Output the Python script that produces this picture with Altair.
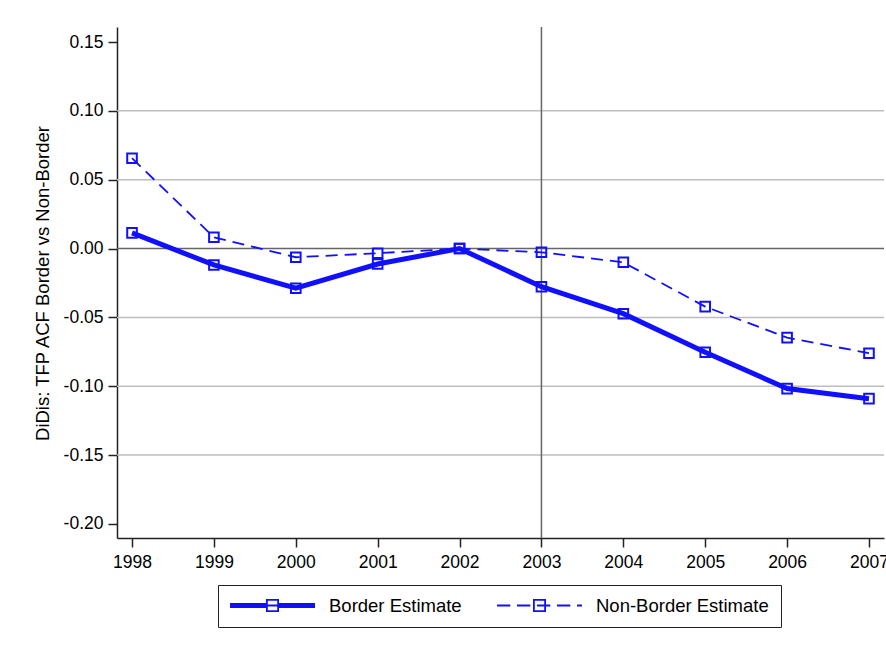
import altair as alt
import pandas as pd

# Difference-in-discontinuities estimates of TFP (ACF), by year
years = [1998, 1999, 2000, 2001, 2002, 2003, 2004, 2005, 2006, 2007]
border = [0.0114, -0.0119, -0.0288, -0.0112, 0.0000, -0.0277, -0.0473, -0.0753, -0.1017, -0.1090]
non_border = [0.0656, 0.0082, -0.0063, -0.0034, 0.0000, -0.0027, -0.0100, -0.0422, -0.0647, -0.0760]
series_names = ["Border Estimate", "Non-Border Estimate"]

y_ticks = [0.15, 0.10, 0.05, 0.00, -0.05, -0.10, -0.15, -0.20]
grid_levels = [0.10, 0.05, -0.05, -0.10, -0.15]
zero_level = [0.0]
event_year = [2003]

BLUE = "#1010ff"
FONT = "Liberation Sans"

border_df = pd.DataFrame({"year": years, "value": border, "series": series_names[0]})
non_border_df = pd.DataFrame({"year": years, "value": non_border, "series": series_names[1]})
df = pd.concat([border_df, non_border_df], ignore_index=True)

x_scale = alt.Scale(domain=[1997.8166, 2007.1834], nice=False, zero=False)
y_scale = alt.Scale(domain=[-0.2102, 0.1609], nice=False, zero=False)

x_axis = alt.Axis(
    values=years, format="d", title=None, grid=False,
    labelFont=FONT, labelFontSize=17.5, labelColor="black", labelPadding=6,
    labelFlush=False, tickSize=9, tickColor="#222222", tickWidth=1.5,
    domainColor="#222222", domainWidth=1.5,
)
y_axis = alt.Axis(
    values=y_ticks, grid=False,
    # plain hyphen-minus for negative tick labels
    labelExpr="replace(format(datum.value, '.2f'), '\u2212', '-')",
    title="DiDis: TFP ACF Border vs Non-Border",
    titleFont=FONT, titleFontSize=18.5, titleFontWeight="normal", titleColor="black",
    titleX=-75, titleY=256, titleAngle=270, titleAlign="center", titleBaseline="middle",
    labelFont=FONT, labelFontSize=17.5, labelColor="black", labelPadding=5,
    tickSize=9, tickColor="#222222", tickWidth=1.5,
    domainColor="#222222", domainWidth=1.5,
)

# background grid and reference lines
grid = (
    alt.Chart(pd.DataFrame({"g": grid_levels}))
    .mark_rule(color="#bdbdbd", strokeWidth=1.5)
    .encode(y=alt.Y("g:Q", scale=y_scale, axis=y_axis))
)
zero = (
    alt.Chart(pd.DataFrame({"z": zero_level}))
    .mark_rule(color="#666666", strokeWidth=1.5)
    .encode(y=alt.Y("z:Q", scale=y_scale))
)
vline = (
    alt.Chart(pd.DataFrame({"e": event_year}))
    .mark_rule(color="#666666", strokeWidth=1.5)
    .encode(x=alt.X("e:Q", scale=x_scale, axis=x_axis))
)

border_line = (
    alt.Chart(border_df)
    .mark_line(color=BLUE, strokeWidth=5)
    .encode(x=alt.X("year:Q", scale=x_scale), y=alt.Y("value:Q", scale=y_scale))
)
non_border_line = (
    alt.Chart(non_border_df)
    .mark_line(color=BLUE, strokeWidth=1.8, strokeDash=[12, 7])
    .encode(x=alt.X("year:Q", scale=x_scale), y=alt.Y("value:Q", scale=y_scale))
)

points = (
    alt.Chart(df)
    .mark_point(shape="square", filled=False, color=BLUE, size=92, strokeWidth=2, opacity=1)
    .encode(
        x=alt.X("year:Q", scale=x_scale),
        y=alt.Y("value:Q", scale=y_scale),
        detail="series:N",
    )
)

# legend glyphs: line (solid or dashed) with a hollow square, as SVG paths in
# symbol units (sqrt(size)/2 pixels per unit)
SYM = 85.0
U = SYM / 2


def rect(x0, x1, y0, y1):
    return f"M{x0/U:.4f},{y0/U:.4f}H{x1/U:.4f}V{y1/U:.4f}H{x0/U:.4f}Z"


def rect_rev(x0, x1, y0, y1):
    return f"M{x0/U:.4f},{y0/U:.4f}V{y1/U:.4f}H{x1/U:.4f}V{y0/U:.4f}Z"


ring = rect(-6.5, 6.5, -6.5, 6.5) + rect_rev(-4.7, 4.7, -4.7, 4.7)
solid_glyph = rect(-U, -6, -2.5, 2.5) + rect(6, U, -2.5, 2.5) + rect(-6, 6, -1.1, 1.1) + ring
dash_segments = [(-U, -29.2), (-22.5, -9.2), (-2.5, 10.8), (17.5, 30.8), (37.5, U)]
dashed_glyph = "".join(rect(a, b, -0.95, 0.95) for a, b in dash_segments) + ring

legend_layer = (
    alt.Chart(df)
    .transform_filter("false")
    .mark_point(filled=True, color=BLUE, size=SYM * SYM, strokeWidth=0, opacity=1)
    .encode(
        x=alt.X("year:Q", scale=x_scale),
        y=alt.Y("value:Q", scale=y_scale),
        shape=alt.Shape(
            "series:N",
            scale=alt.Scale(domain=series_names, range=[solid_glyph, dashed_glyph]),
            legend=alt.Legend(
                orient="none", legendX=101, legendY=558,
                direction="horizontal", columns=2, title=None,
                clipHeight=17, symbolSize=SYM * SYM, symbolStrokeWidth=0,
                symbolFillColor=BLUE, symbolOpacity=1,
                labelFont=FONT, labelFontSize=18.5, labelColor="black",
                labelOffset=14, labelLimit=400, columnPadding=35,
                padding=12, strokeColor="#222222", fillColor="white",
            ),
        ),
    )
)

chart = (
    alt.layer(grid, zero, vline, border_line, non_border_line, points, legend_layer)
    .properties(
        width=767, height=511,
        padding={"left": 117, "top": 27, "right": 2, "bottom": 113},
        autosize=alt.AutoSizeParams(type="none"),
        background="white",
    )
    .configure_view(stroke=None)
)

chart.save("out.html", embed_options={"renderer": "svg", "actions": False})
